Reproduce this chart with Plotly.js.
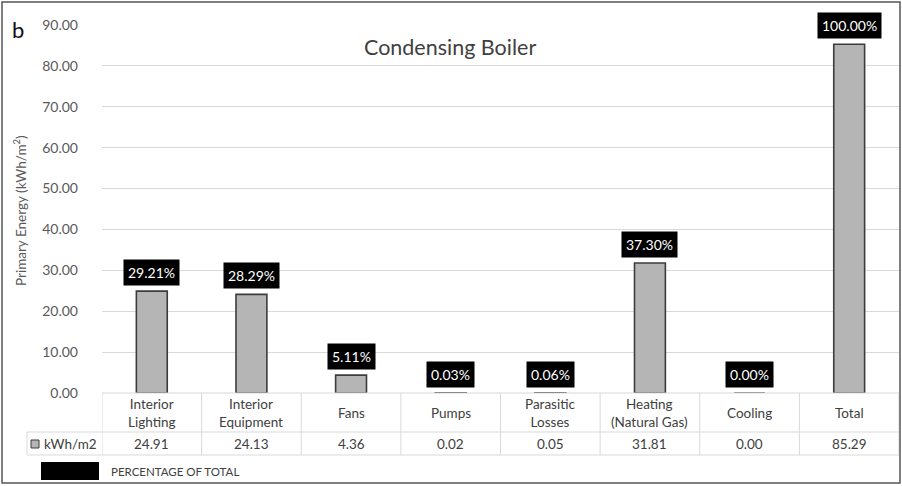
<!DOCTYPE html>
<html>
<head>
<meta charset="utf-8">
<script src="https://cdn.plot.ly/plotly-3.0.1.min.js"></script>
<style>
html,body{margin:0;padding:0;background:#fff;}
#chart{width:902px;height:486px;}
</style>
</head>
<body>
<div id="chart"></div>
<script>
const categories = ["Interior Lighting", "Interior Equipment", "Fans", "Pumps", "Parasitic Losses", "Heating (Natural Gas)", "Cooling", "Total"];
const headerLabels = ["Interior<br>Lighting", "Interior<br>Equipment", "Fans", "Pumps", "Parasitic<br>Losses", "Heating<br>(Natural Gas)", "Cooling", "Total"];
const kwhValues = [24.91, 24.13, 4.36, 0.02, 0.05, 31.81, 0.00, 85.29];
const percentLabels = ["29.21%", "28.29%", "5.11%", "0.03%", "0.06%", "37.30%", "0.00%", "100.00%"];
const yTickVals = [0, 10, 20, 30, 40, 50, 60, 70, 80, 90];

// geometry helpers (pixel -> paper)
const L = 102, R = 3, T = 25, B = 93, W = 902, H = 486;
const PW = W - L - R, PH = H - T - B;
const px = p => (p - L) / PW;
const py = p => (H - B - p) / PH;

const FONT = "Lato, 'Open Sans', sans-serif";
const TXT = "#404040";
const GRID = "#d9d9d9";

const trace = {
  type: "bar",
  x: categories.map((c, i) => i),
  y: kwhValues,
  width: 0.31,
  marker: {color: "#b5b5b5", line: {color: "#3c3c3c", width: 1.6}},
  hoverinfo: "skip",
  showlegend: false
};

const shapes = [];
const annotations = [];

// table lines
const lineStyle = {color: GRID, width: 1};
shapes.push({type: "line", xref: "paper", yref: "paper", x0: 0, x1: 1, y0: py(393), y1: py(393), line: lineStyle});
shapes.push({type: "line", xref: "paper", yref: "paper", x0: px(27), x1: 1, y0: py(432), y1: py(432), line: lineStyle});
shapes.push({type: "line", xref: "paper", yref: "paper", x0: px(27), x1: 1, y0: py(455), y1: py(455), line: lineStyle});
shapes.push({type: "line", xref: "paper", yref: "paper", x0: px(27), x1: px(27), y0: py(432), y1: py(455), line: lineStyle});
for (let i = 0; i <= categories.length; i++) {
  shapes.push({type: "line", xref: "x", yref: "paper", x0: i - 0.5, x1: i - 0.5, y0: py(393), y1: py(455), line: lineStyle});
}

// legend marker in table
shapes.push({type: "rect", xref: "paper", yref: "paper", x0: px(31), x1: px(39), y0: py(448), y1: py(440), fillcolor: "#b5b5b5", line: {color: "#3c3c3c", width: 1}});
annotations.push({xref: "paper", yref: "paper", x: px(42), y: py(444), xanchor: "left", yanchor: "middle", text: "kWh/m2", showarrow: false, font: {family: FONT, size: 13.5, color: TXT}});

// percentage legend
shapes.push({type: "rect", xref: "paper", yref: "paper", x0: px(41), x1: px(99), y0: py(480), y1: py(462), fillcolor: "#000", line: {width: 0}});
annotations.push({xref: "paper", yref: "paper", x: px(109), y: py(471), xanchor: "left", yanchor: "middle", text: "PERCENTAGE OF TOTAL", showarrow: false, font: {family: FONT, size: 11.5, color: TXT}});

// outer border
shapes.push({type: "rect", xref: "paper", yref: "paper", x0: px(2), x1: px(900), y0: py(483), y1: py(2), line: {color: "#555", width: 1.5}, fillcolor: "rgba(0,0,0,0)", layer: "above"});

// header labels + data values + percent labels
categories.forEach((c, i) => {
  annotations.push({xref: "x", yref: "paper", x: i, y: py(413), yanchor: "middle", text: headerLabels[i], showarrow: false, font: {family: FONT, size: 13.5, color: TXT}});
  annotations.push({xref: "x", yref: "paper", x: i, y: py(444), yanchor: "middle", text: kwhValues[i].toFixed(2), showarrow: false, font: {family: FONT, size: 13.5, color: TXT}});
  annotations.push({xref: "x", yref: "y", x: i, y: kwhValues[i], yanchor: "bottom", yshift: 5, text: percentLabels[i], showarrow: false, bgcolor: "#000", borderpad: 4, font: {family: FONT, size: 14, color: "#fff"}});
});

// titles
annotations.push({xref: "paper", yref: "paper", x: px(450), y: py(47), xanchor: "center", yanchor: "middle", text: "Condensing Boiler", showarrow: false, font: {family: FONT, size: 21.5, color: TXT}});
annotations.push({xref: "paper", yref: "paper", x: px(18), y: py(29), xanchor: "center", yanchor: "middle", text: "b", showarrow: false, font: {family: FONT, size: 22, color: "#111"}});
annotations.push({xref: "paper", yref: "paper", x: px(20), y: py(211), xanchor: "center", yanchor: "middle", textangle: -90, text: "Primary Energy (kWh/m<sup>2</sup>)", showarrow: false, font: {family: FONT, size: 13.5, color: "#595959"}});

const layout = {
  width: W, height: H,
  margin: {l: L, r: R, t: T, b: B, pad: 0},
  paper_bgcolor: "#fff", plot_bgcolor: "#fff",
  xaxis: {type: "linear", range: [-0.5, categories.length - 0.5], showticklabels: false, showgrid: false, zeroline: false, showline: false, fixedrange: true},
  yaxis: {range: [0, 90], tickvals: yTickVals, ticktext: yTickVals.map(v => v.toFixed(2)), showgrid: true, gridcolor: GRID, gridwidth: 1, zeroline: false, showline: false, ticks: "", ticklabelstandoff: 23, tickfont: {family: FONT, size: 14, color: "#595959"}, fixedrange: true},
  shapes: shapes,
  annotations: annotations,
  showlegend: false
};

Plotly.newPlot("chart", [trace], layout, {displayModeBar: false, staticPlot: true});
</script>
</body>
</html>
